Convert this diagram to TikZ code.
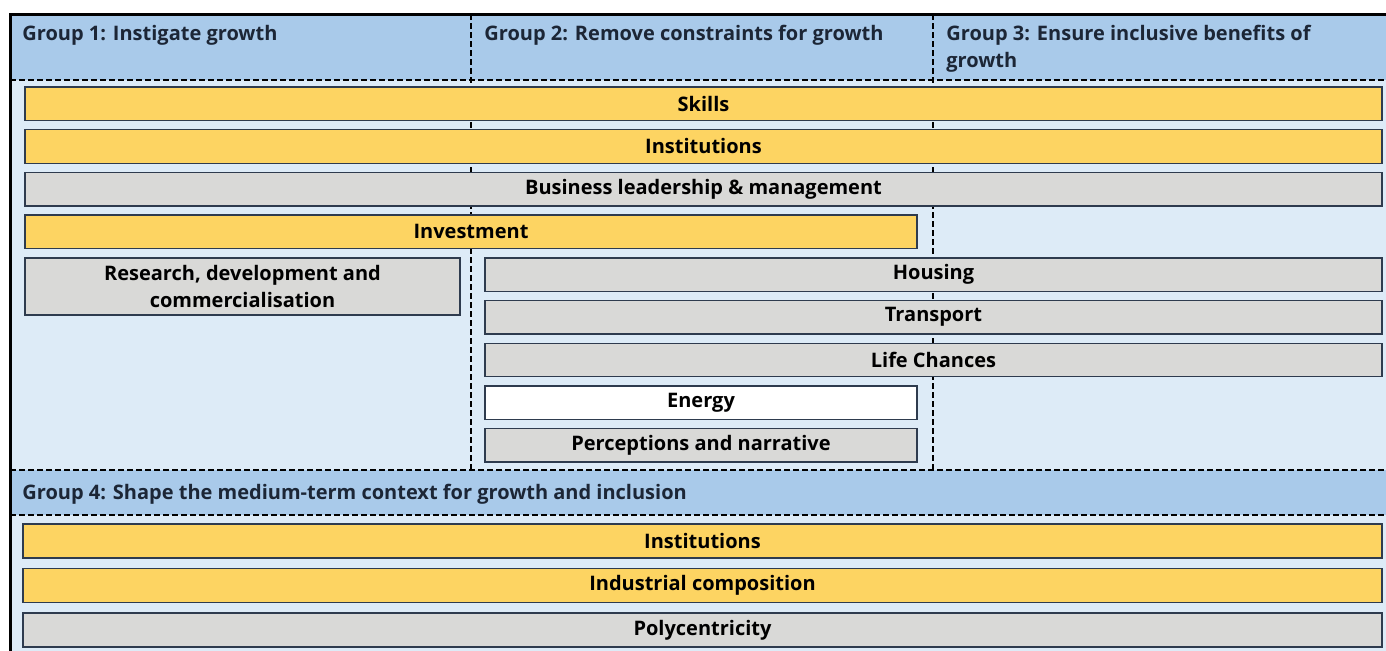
\documentclass[tikz,border=0pt]{standalone}
\usepackage{fontspec}
\setmainfont{Open Sans}
\usepackage{xcolor}
\usepackage{tikz}
\usetikzlibrary{positioning}
\definecolor{hdrfill}{HTML}{A9CAEA}
\definecolor{bodyfill}{HTML}{DDEBF7}
\definecolor{barline}{HTML}{2E3B4E}
\definecolor{yelfill}{HTML}{FDD462}
\definecolor{gryfill}{HTML}{D9D9D7}
\definecolor{hdrtext}{HTML}{1C2636}
\tikzset{
  bar/.style  = {draw=barline, line width=0.7pt, inner sep=0pt, outer sep=0pt,
                 align=center, font=\bfseries\fontsize{10}{13.5}\selectfont,
                 minimum height=16.75pt},
  ybar/.style = {bar, fill=yelfill},
  gbar/.style = {bar, fill=gryfill},
  wbar/.style = {bar, fill=white},
  hdr/.style  = {anchor=base west, inner sep=0pt, align=left, text=hdrtext,
                 font=\bfseries\fontsize{10}{13.5}\selectfont},
  sep/.style  = {draw=black, line width=0.9pt, dash pattern=on 3pt off 1.5pt}
}

\begin{document}
\begin{tikzpicture}[x=0.5pt, y=-0.5pt]
  \useasboundingbox (0,0) rectangle (1386,650);
  % panels
  \fill[bodyfill] (10,14) rectangle (1390,655);
  \fill[hdrfill] (10,14) rectangle (1390,80);
  \fill[hdrfill] (10,470) rectangle (1390,515);
  \draw[sep] (471,14) -- (471,470);
  \draw[sep] (933,14) -- (933,470);
  \draw[sep] (10,80) -- (1390,80);
  \draw[sep] (10,470) -- (1390,470);
  \draw[sep] (10,515) -- (1390,515);
  \draw[line width=1.5pt] (10,660) |- (1396,14);
  % group headings
  \node[hdr] (g1) at (22,40) {Group 1: Instigate growth};
  \node[hdr] (g2) at (484,40) {Group 2: Remove constraints for growth};
  \node[hdr] (g3) at (946,67) {Group 3: Ensure inclusive benefits of\\growth};
  \node[hdr] (g4) at (22,499) {Group 4: Shape the medium-term context for growth and inclusion};
  % groups 1--3
  \node[ybar, minimum width=678.5pt, anchor=north west] (skills) at (25,87) {Skills};
  \node[ybar, minimum width=678.5pt, below right=4.6pt and 0pt of skills.south west] (inst)
       {Institutions};
  \node[gbar, minimum width=678.5pt, below right=4.6pt and 0pt of inst.south west] (lead)
       {Business leadership \& management};
  \node[ybar, minimum width=446pt, below right=4.6pt and 0pt of lead.south west] (inv)
       {Investment};
  \node[gbar, minimum width=217.5pt, minimum height=28.5pt,
        below right=4.6pt and 0pt of inv.south west] (rd)
       {Research, development and\\commercialisation};
  \node[gbar, minimum width=448.5pt, anchor=north west] (house) at (485,257.8) {Housing};
  \node[gbar, minimum width=448.5pt, below right=4.6pt and 0pt of house.south west] (trans)
       {Transport};
  \node[gbar, minimum width=448.5pt, below right=4.6pt and 0pt of trans.south west] (life)
       {Life Chances};
  \node[wbar, minimum width=216pt, below right=4.6pt and 0pt of life.south west] (energy)
       {Energy};
  \node[gbar, minimum width=216pt, below right=4.6pt and 0pt of energy.south west] (perc)
       {Perceptions and narrative};
  % group 4
  \node[ybar, minimum width=679.5pt, minimum height=17pt, anchor=north west] (inst4) at (23,524)
       {Institutions};
  \node[ybar, minimum width=679.5pt, minimum height=17pt,
        below right=5.25pt and 0pt of inst4.south west] (indus) {Industrial composition};
  \node[gbar, minimum width=679.5pt, minimum height=17pt,
        below right=5.25pt and 0pt of indus.south west] (poly) {Polycentricity};
\end{tikzpicture}
\end{document}
